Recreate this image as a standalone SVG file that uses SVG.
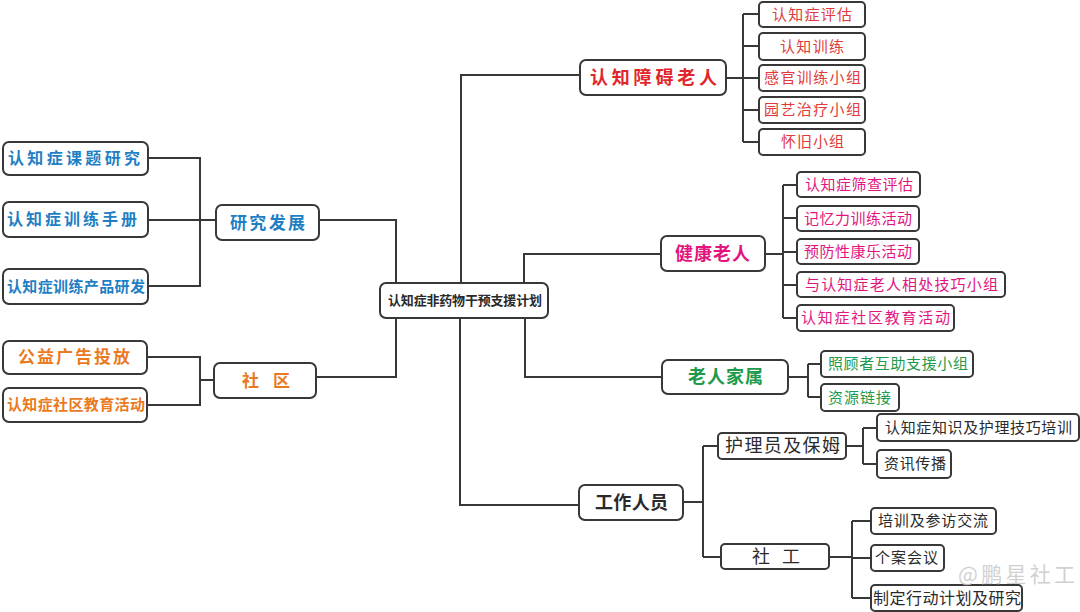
<svg xmlns="http://www.w3.org/2000/svg" width="1080" height="612" viewBox="0 0 1080 612">
<style>
.b{fill:#fff;stroke:#383838;stroke-width:2}
.c{fill:none;stroke:#383838;stroke-width:2}
text{font-family:"Noto Sans CJK SC","Noto Sans",sans-serif}
.bold{font-weight:bold}
.blue{fill:#1f7fc4}
.orange{fill:#ea7a1e}
.red{fill:#e2262b}
.red2{fill:#e03a3a}
.mag{fill:#e2157e}
.green{fill:#1d9a4b}
.dark{fill:#2a2a2a}
</style>
<rect width="1080" height="612" fill="#fff"/>
<g id="connectors">
<path class="c" d="M396 283V220H319M461 283V75H580M524 283V254H661M396 318V377H316M460 318V505H579M525 318V377H662"/>
<path class="c" d="M148 158H200V286H148M148 220H216"/>
<path class="c" d="M147 357H200V405H147M200 380H214"/>
<path class="c" d="M726 78H743M743 14V142M743 14H759M743 46H759M743 78H759M743 110H759M743 142H759"/>
<path class="c" d="M765 254H783M783 185V318M783 185H797M783 218H797M783 252H797M783 285H797M783 318H797"/>
<path class="c" d="M788 377H808M808 364V397M808 364H821M808 397H821"/>
<path class="c" d="M683 502H703M703 446V557M703 446H718M703 557H721"/>
<path class="c" d="M846 446H863M863 428V464M863 428H877M863 464H877"/>
<path class="c" d="M829 557H852M852 521V598M852 521H871M852 558H871M852 598H871"/>
</g>
<g id="root"><rect class="b" x="380" y="283" width="168" height="35" rx="6"/><text class="bold dark" x="388" y="305" font-size="13" textLength="154" lengthAdjust="spacing">认知症非药物干预支援计划</text></g>

<g id="yjfz"><rect class="b" x="216" y="205" width="103" height="35" rx="6"/><text class="bold blue" x="230" y="229" font-size="17" textLength="75" lengthAdjust="spacing">研究发展</text></g>
<g id="yj1"><rect class="b" x="3" y="142" width="145" height="33" rx="6"/><text class="bold blue" x="8" y="164" font-size="16" textLength="132" lengthAdjust="spacing">认知症课题研究</text></g>
<g id="yj2"><rect class="b" x="3" y="202" width="145" height="35" rx="6"/><text class="bold blue" x="7" y="225" font-size="16" textLength="130" lengthAdjust="spacing">认知症训练手册</text></g>
<g id="yj3"><rect class="b" x="3" y="269" width="145" height="35" rx="6"/><text class="bold blue" x="7" y="292" font-size="15" textLength="138" lengthAdjust="spacing">认知症训练产品研发</text></g>

<g id="sq"><rect class="b" x="214" y="363" width="102" height="35" rx="6"/><text class="bold orange" x="242" y="387" font-size="17" textLength="48" lengthAdjust="spacing">社 区</text></g>
<g id="sq1"><rect class="b" x="3" y="341" width="144" height="33" rx="6"/><text class="bold orange" x="18" y="363" font-size="17" textLength="112" lengthAdjust="spacing">公益广告投放</text></g>
<g id="sq2"><rect class="b" x="3" y="388" width="144" height="34" rx="6"/><text class="bold orange" x="7" y="410" font-size="15" textLength="138" lengthAdjust="spacing">认知症社区教育活动</text></g>

<g id="rzza"><rect class="b" x="580" y="60" width="146" height="35" rx="6"/><text class="bold red" x="590" y="84" font-size="18" textLength="127" lengthAdjust="spacing">认知障碍老人</text></g>
<g id="rz1"><rect class="b" x="759" y="2" width="106" height="25" rx="4"/><text class="red2" x="772" y="20" font-size="15" textLength="80" lengthAdjust="spacing">认知症评估</text></g>
<g id="rz2"><rect class="b" x="759" y="33" width="106" height="27" rx="4"/><text class="red2" x="780" y="52" font-size="15" textLength="64" lengthAdjust="spacing">认知训练</text></g>
<g id="rz3"><rect class="b" x="759" y="65" width="106" height="26" rx="4"/><text class="red2" x="764" y="83" font-size="15" textLength="97" lengthAdjust="spacing">感官训练小组</text></g>
<g id="rz4"><rect class="b" x="759" y="97" width="106" height="26" rx="4"/><text class="red2" x="764" y="115" font-size="15" textLength="97" lengthAdjust="spacing">园艺治疗小组</text></g>
<g id="rz5"><rect class="b" x="759" y="129" width="106" height="26" rx="4"/><text class="red2" x="781" y="147" font-size="15" textLength="63" lengthAdjust="spacing">怀旧小组</text></g>

<g id="jk"><rect class="b" x="661" y="236" width="104" height="35" rx="6"/><text class="bold mag" x="675" y="260" font-size="18" textLength="75" lengthAdjust="spacing">健康老人</text></g>
<g id="jk1"><rect class="b" x="797" y="172" width="123" height="25" rx="4"/><text class="mag" x="805" y="190" font-size="15" textLength="108" lengthAdjust="spacing">认知症筛查评估</text></g>
<g id="jk2"><rect class="b" x="797" y="206" width="122" height="25" rx="4"/><text class="mag" x="804" y="224" font-size="15" textLength="108" lengthAdjust="spacing">记忆力训练活动</text></g>
<g id="jk3"><rect class="b" x="797" y="239" width="122" height="25" rx="4"/><text class="mag" x="804" y="257" font-size="15" textLength="108" lengthAdjust="spacing">预防性康乐活动</text></g>
<g id="jk4"><rect class="b" x="797" y="272" width="208" height="25" rx="4"/><text class="mag" x="805" y="290" font-size="15" textLength="193" lengthAdjust="spacing">与认知症老人相处技巧小组</text></g>
<g id="jk5"><rect class="b" x="797" y="305" width="157" height="26" rx="4"/><text class="mag" x="801" y="323" font-size="15" textLength="149" lengthAdjust="spacing">认知症社区教育活动</text></g>

<g id="js"><rect class="b" x="662" y="360" width="126" height="34" rx="6"/><text class="bold green" x="688" y="383" font-size="18" textLength="75" lengthAdjust="spacing">老人家属</text></g>
<g id="js1"><rect class="b" x="821" y="351" width="152" height="26" rx="4"/><text class="green" x="828" y="369" font-size="15" textLength="140" lengthAdjust="spacing">照顾者互助支援小组</text></g>
<g id="js2"><rect class="b" x="821" y="384" width="78" height="27" rx="4"/><text class="green" x="828" y="403" font-size="15" textLength="63" lengthAdjust="spacing">资源链接</text></g>

<g id="gz"><rect class="b" x="579" y="485" width="104" height="35" rx="6"/><text class="bold dark" x="595" y="509" font-size="18" textLength="73" lengthAdjust="spacing">工作人员</text></g>
<g id="hl"><rect class="b" x="718" y="433" width="128" height="26" rx="4"/><text class="dark" x="725" y="452" font-size="18" textLength="115" lengthAdjust="spacing">护理员及保姆</text></g>
<g id="hl1"><rect class="b" x="877" y="414" width="202" height="27" rx="4"/><text class="dark" x="885" y="433" font-size="15" textLength="187" lengthAdjust="spacing">认知症知识及护理技巧培训</text></g>
<g id="hl2"><rect class="b" x="877" y="450" width="74" height="28" rx="4"/><text class="dark" x="884" y="469" font-size="15" textLength="62" lengthAdjust="spacing">资讯传播</text></g>
<g id="sg"><rect class="b" x="721" y="544" width="108" height="25" rx="4"/><text class="dark" x="752" y="563" font-size="18" textLength="48" lengthAdjust="spacing">社 工</text></g>
<g id="sg1"><rect class="b" x="871" y="508" width="125" height="26" rx="4"/><text class="dark" x="878" y="526" font-size="15" textLength="110" lengthAdjust="spacing">培训及参访交流</text></g>
<g id="sg2"><rect class="b" x="871" y="545" width="73" height="26" rx="4"/><text class="dark" x="875" y="563" font-size="15" textLength="63" lengthAdjust="spacing">个案会议</text></g>
<g id="sg3"><rect class="b" x="871" y="585" width="151" height="26" rx="4"/><text class="dark" x="873" y="604" font-size="16" textLength="148" lengthAdjust="spacing">制定行动计划及研究</text></g>
<text x="958" y="582" font-size="21" fill="#c8c8c8" fill-opacity="0.85" textLength="117" lengthAdjust="spacing">@鹏星社工</text>
</svg>
